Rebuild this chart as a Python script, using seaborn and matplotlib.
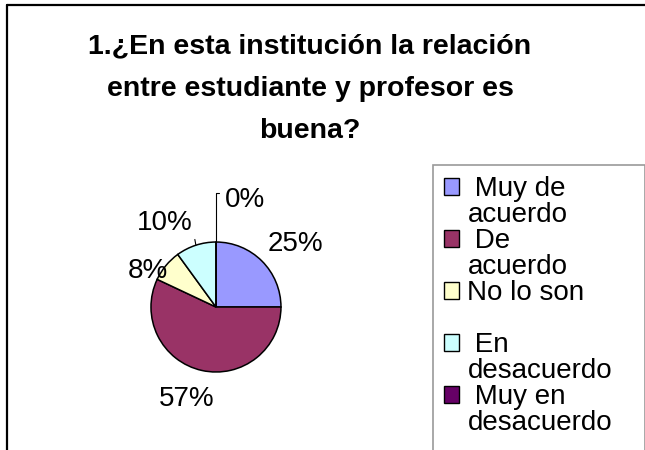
import matplotlib.pyplot as plt
import seaborn as sns
import numpy as np
from matplotlib.patches import Patch
from matplotlib.lines import Line2D

# datos
categorias = ["Muy de acuerdo", "De acuerdo", "No lo son", "En desacuerdo", "Muy en desacuerdo"]
porcentajes = [25, 57, 8, 10, 0]
leyenda_lineas = [[" Muy de", "acuerdo"], [" De", "acuerdo"], ["No lo son", ""],
                  [" En", "desacuerdo"], [" Muy en", "desacuerdo"]]
titulo = ["1.¿En esta institución la relación", "entre estudiante y profesor es", "buena?"]
colores = ["#9999FF", "#993366", "#FFFFCC", "#CCFFFF", "#660066"]

sns.set_theme(style="white")
plt.rcParams['font.family'] = ['Liberation Sans', 'DejaVu Sans']
plt.rcParams['text.color'] = 'black'

fig = plt.figure(figsize=(6.45, 4.5), dpi=100)
fig.patch.set_facecolor("white")

# marco exterior (solo se ven el borde superior e izquierdo)
x0, y0 = 7 / 645, 1 - 5 / 450
fig.add_artist(Line2D([x0, 1.0], [y0, y0], transform=fig.transFigure, color="black", lw=1.6))
fig.add_artist(Line2D([x0, x0], [0.0, y0], transform=fig.transFigure, color="black", lw=1.6))

# titulo
for texto, yc in zip(titulo, [46, 89, 131]):
    fig.text(310 / 645, 1 - yc / 450, texto, ha="center", va="center",
             fontsize=20.5, fontweight="bold")

# pastel
ax = fig.add_axes([0.2089, 0.1372, 0.2519, 0.3611])
wedges, _ = ax.pie(porcentajes, colors=sns.color_palette(colores), startangle=90,
                   counterclock=False, wedgeprops=dict(edgecolor="black", linewidth=1.1))

# posiciones de las etiquetas (en unidades del radio)
pos_texto = [(1.22, 0.97), (-0.45, -1.42), (-1.05, 0.55), (-0.36, 1.29), (0.14, 1.65)]
for i, (w, v) in enumerate(zip(wedges, porcentajes)):
    ang = np.deg2rad((w.theta1 + w.theta2) / 2)
    borde = (np.cos(ang), np.sin(ang))
    txt = f"{v}%"
    if i == 3:
        ax.annotate(txt, xy=borde, xytext=pos_texto[i], ha="right", va="center", fontsize=20,
                    arrowprops=dict(arrowstyle="-", color="black", lw=0.8,
                                    relpos=(1, 0.35), shrinkA=0, shrinkB=0))
    elif i == 4:
        ax.annotate(txt, xy=borde, xytext=pos_texto[i], ha="left", va="center", fontsize=20,
                    arrowprops=dict(arrowstyle="-", color="black", lw=0.8, relpos=(0, 0.75),
                                    shrinkA=2, shrinkB=0,
                                    connectionstyle="angle,angleA=0,angleB=90,rad=0"))
    else:
        ax.text(pos_texto[i][0], pos_texto[i][1], txt, ha="center", va="center", fontsize=20)

# leyenda (cada entrada ocupa dos renglones; el borde inferior queda fuera de la imagen)
handles, labels = [], []
for c, lineas in zip(colores, leyenda_lineas):
    handles.append(Patch(facecolor=c, edgecolor="black", linewidth=1.0))
    labels.append(lineas[0])
    handles.append(Patch(facecolor="none", edgecolor="none"))
    labels.append(lineas[1])
handles.append(Patch(facecolor="none", edgecolor="none"))
labels.append("")

leg = fig.legend(handles, labels, loc="upper left",
                 bbox_to_anchor=(433 / 645, 0.0, 212 / 645, 1 - 165 / 450), mode="expand",
                 frameon=True, fancybox=False, edgecolor="#808080", fontsize=20,
                 handlelength=0.54, handleheight=0.54, handletextpad=0.3,
                 labelspacing=0, borderpad=0.4, borderaxespad=0)
leg.get_frame().set_linewidth(1.2)

fig.savefig("out.png", dpi=100)
